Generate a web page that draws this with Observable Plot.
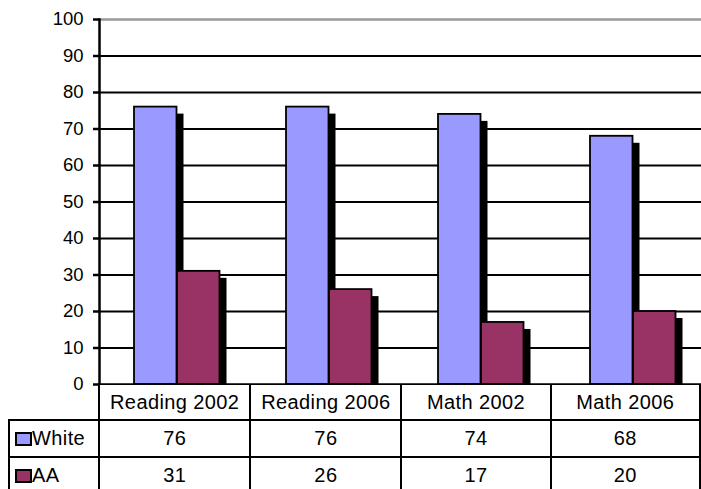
<!DOCTYPE html>
<html>
<head>
<meta charset="utf-8">
<script src="https://cdn.jsdelivr.net/npm/d3@7"></script>
<script src="https://cdn.jsdelivr.net/npm/@observablehq/plot@0.6"></script>
<style>
  html, body { margin: 0; padding: 0; background: #fff; overflow: hidden; }
  #wrap { position: relative; width: 701px; height: 489px; overflow: hidden;
          font-family: "Liberation Sans", Arial, sans-serif; color: #000; }
  #chart svg { display: block; }
  table.data { position: absolute; left: 8px; top: 385px; border-collapse: collapse;
               table-layout: fixed; font-size: 20px; z-index: 2; }
  table.data td { border: 2px solid #000; text-align: center; padding: 0; white-space: nowrap;
                  background: #fff; letter-spacing: 0.4px; }
  table.data tr.head td { border-top: none; height: 34px; }
  table.data tr.head td.corner { border-left: none; background: transparent; }
  table.data tr.row td { height: 35px; }
  table.data td.label { text-align: left; padding-left: 5px; }
  .key { display: inline-block; width: 13px; height: 10px; border: 2px solid #000;
         vertical-align: -1px; margin-right: 0px; }
</style>
</head>
<body>
<div id="wrap">
  <div id="chart"></div>
</div>
<script>
// Test categories and the share of each group (percent) per test
const categories = ["Reading 2002", "Reading 2006", "Math 2002", "Math 2006"];
const series = ["White", "AA"];
const white = [76, 76, 74, 68];
const aa = [31, 26, 17, 20];
const yTicks = [0, 10, 20, 30, 40, 50, 60, 70, 80, 90, 100];
const colors = {White: "#9999FF", AA: "#993366"};

const whiteRows = categories.map((c, i) => ({category: c, series: "White", value: white[i]}));
const aaRows = categories.map((c, i) => ({category: c, series: "AA", value: aa[i]}));

const band = 152.5;           // width of one category band in px
const barW = 43;              // width of a single bar
const lead = 34;              // gap before the first bar of a group
const whiteInset = {insetLeft: lead, insetRight: band - lead - barW};
const aaInset = {insetLeft: lead + barW, insetRight: band - lead - 2 * barW};
const shadow = {fill: "#000", dx: 7, dy: 7, clip: true};
const face = {stroke: "#000", strokeWidth: 1.8};

const chart = Plot.plot({
  width: 701,
  height: 400,
  marginTop: 19,
  marginBottom: 16,
  marginLeft: 99,
  marginRight: 0,
  style: {fontFamily: "'Liberation Sans', Arial, sans-serif", fontSize: "18px", color: "#000", background: "#fff"},
  x: {domain: categories, range: [99, 99 + 4 * band], padding: 0, axis: null},
  y: {domain: [0, 100], axis: null, label: null},
  marks: [
    Plot.ruleY(yTicks.filter(v => v > 0), {
      y: d => d,
      stroke: d => d === 100 ? "#999" : "#000",
      strokeWidth: d => d === 100 ? 2.5 : 2
    }),
    Plot.barY(whiteRows, {x: "category", y: "value", ...whiteInset, ...shadow}),
    Plot.barY(aaRows, {x: "category", y: "value", ...aaInset, ...shadow}),
    Plot.barY(whiteRows, {x: "category", y: "value", ...whiteInset, fill: colors.White, ...face}),
    Plot.barY(aaRows, {x: "category", y: "value", ...aaInset, fill: colors.AA, ...face}),
    Plot.ruleY([0], {strokeWidth: 2.5}),
    Plot.frame({anchor: "left", strokeWidth: 2.5}),
    Plot.axisY({ticks: yTicks, tickSize: 6, tickPadding: 10, strokeWidth: 2.5, fontSize: 18.5, label: null})
  ]
});
document.getElementById("chart").append(chart);

// Data table beneath the bars: category headers, then one row per series
const table = document.createElement("table");
table.className = "data";
const colgroup = document.createElement("colgroup");
[91, ...categories.map(() => band)].forEach(w => {
  const col = document.createElement("col");
  col.style.width = w + "px";
  colgroup.append(col);
});
table.append(colgroup);

const head = document.createElement("tr");
head.className = "head";
const corner = document.createElement("td");
corner.className = "corner";
head.append(corner);
categories.forEach(c => {
  const td = document.createElement("td");
  td.textContent = c;
  head.append(td);
});
table.append(head);

const values = {White: white, AA: aa};
series.forEach(s => {
  const tr = document.createElement("tr");
  tr.className = "row";
  const lab = document.createElement("td");
  lab.className = "label";
  const key = document.createElement("span");
  key.className = "key";
  key.style.background = colors[s];
  lab.append(key, document.createTextNode(s));
  tr.append(lab);
  values[s].forEach(v => {
    const td = document.createElement("td");
    td.textContent = v;
    tr.append(td);
  });
  table.append(tr);
});
document.getElementById("wrap").append(table);
</script>
</body>
</html>
